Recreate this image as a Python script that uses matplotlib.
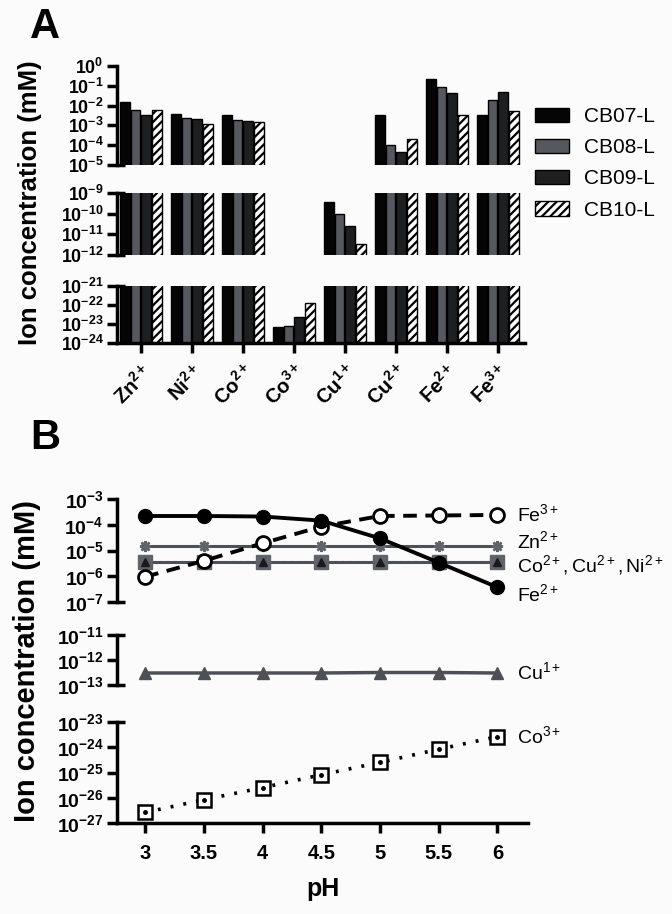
import matplotlib
matplotlib.use("Agg")
import matplotlib.pyplot as plt
import numpy as np

plt.rcParams['font.family'] = ['Liberation Sans', 'DejaVu Sans']
plt.rcParams['mathtext.fontset'] = 'custom'
plt.rcParams['mathtext.rm'] = 'Liberation Sans'
plt.rcParams['mathtext.it'] = 'Liberation Sans:italic'
plt.rcParams['mathtext.bf'] = 'Liberation Sans:bold'
plt.rcParams['mathtext.default'] = 'bf'
plt.rcParams['hatch.linewidth'] = 1.6

# ---------------- Data: panel A (log10 of ion concentration, mM) ----------------
ions_A = [r'$Zn^{2+}$', r'$Ni^{2+}$', r'$Co^{2+}$', r'$Co^{3+}$',
          r'$Cu^{1+}$', r'$Cu^{2+}$', r'$Fe^{2+}$', r'$Fe^{3+}$']
samples = ['CB07-L', 'CB08-L', 'CB09-L', 'CB10-L']
log_CB07 = [-1.82, -2.42, -2.45, -23.16, -9.42, -2.47, -0.65, -2.50]
log_CB08 = [-2.23, -2.65, -2.75, -23.10, -10.03, -3.97, -1.08, -1.73]
log_CB09 = [-2.50, -2.70, -2.80, -22.65, -10.58, -4.33, -1.37, -1.32]
log_CB10 = [-2.23, -2.92, -2.83, -21.91, -11.48, -3.67, -2.45, -2.27]

# ---------------- Data: panel B (log10 of ion concentration, mM) ----------------
pH = [3, 3.5, 4, 4.5, 5, 5.5, 6]
pH_labels = ['3', '3.5', '4', '4.5', '5', '5.5', '6']
log_Fe2 = [-3.66, -3.66, -3.68, -3.84, -4.53, -5.47, -6.43]
log_Fe3 = [-6.02, -5.40, -4.72, -4.07, -3.66, -3.64, -3.62]
log_Zn2 = [-4.83] * 7
log_Co2 = [-5.46] * 7
log_Cu2 = [-5.46] * 7
log_Ni2 = [-5.46] * 7
log_Cu1 = [-12.52, -12.52, -12.52, -12.52, -12.50, -12.50, -12.52]
log_Co3 = [-26.58, -26.08, -25.60, -25.09, -24.60, -24.08, -23.58]

W, H = 672, 914
bg = '#fbfbfb'
fig = plt.figure(figsize=(W / 100, H / 100), dpi=100, facecolor=bg)


def add_ax(x0, x1, ytop, ybot):
    ax = fig.add_axes([x0 / W, 1 - ybot / H, (x1 - x0) / W, (ybot - ytop) / H])
    ax.set_facecolor('none')
    return ax


SPW = 2.5
TICKL = 7.5


def style_seg(ax, lo, hi, bottom_axis, cap_top, cap_bot, lsize):
    ax.set_yscale('log')
    ax.set_ylim(10.0 ** lo, 10.0 ** hi)
    for s in ['top', 'right']:
        ax.spines[s].set_visible(False)
    ax.spines['left'].set_linewidth(SPW)
    ax.spines['bottom'].set_linewidth(SPW)
    ax.spines['bottom'].set_visible(bottom_axis)
    exps = list(range(lo, hi + 1))
    ax.set_yticks([10.0 ** e for e in exps])
    ax.set_yticklabels([r'$10^{%d}$' % e for e in exps])
    ax.yaxis.set_minor_locator(matplotlib.ticker.NullLocator())
    ax.tick_params(axis='y', length=TICKL, width=SPW, labelsize=lsize, pad=2)
    if not bottom_axis:
        ax.tick_params(axis='x', bottom=False, labelbottom=False)
    for flag, yv in [(cap_top, 1), (cap_bot, 0)]:
        if flag:
            ax.plot([0, 0.02], [yv, yv], transform=ax.transAxes, color='black',
                    lw=SPW, clip_on=False, solid_capstyle='butt')


# ---------------- Panel A ----------------
xA0, xA1 = 117, 525
segsA = [(66, 165, -5, 0), (193, 255, -12, -9), (286, 343, -24, -21)]
colors = ['#050505', '#55595f', '#1e1f21', 'white']
hatches = [None, None, None, '////']
series = [log_CB07, log_CB08, log_CB09, log_CB10]
x = np.arange(len(ions_A))
offs = [-0.315, -0.105, 0.105, 0.315]
axesA = []
for i, (yt, yb, lo, hi) in enumerate(segsA):
    ax = add_ax(xA0, xA1, yt, yb)
    last = (i == len(segsA) - 1)
    for s, vals in enumerate(series):
        ax.bar(x + offs[s], [10.0 ** v - 1e-40 for v in vals], bottom=1e-40, width=0.19,
               color=colors[s], edgecolor='black', linewidth=1.0, hatch=hatches[s],
               label=samples[s])
    ax.set_xlim(-0.47, 7.53)
    style_seg(ax, lo, hi, last, cap_top=(i > 0), cap_bot=(not last), lsize=12.8)
    axesA.append(ax)

axA = axesA[-1]
axA.set_xticks(x)
axA.set_xticklabels(ions_A, rotation=45, ha='right', rotation_mode='anchor', fontsize=14.5)
axA.tick_params(axis='x', length=7, width=SPW, pad=6)

handles, labels = axesA[0].get_legend_handles_labels()
fig.legend(handles, labels, loc='upper left', bbox_to_anchor=(527 / W, 1 - 99 / H),
           frameon=False, fontsize=15, handlelength=1.6, handleheight=0.7,
           handletextpad=0.75, labelspacing=0.58, borderaxespad=0)

fig.text(30 / W, 1 - 203 / H, 'Ion concentration (mM)', rotation=90, ha='center',
         va='center', fontsize=18.5, fontweight='bold')
fig.text(30 / W, 1 - 27 / H, 'A', fontsize=30, fontweight='bold', ha='left', va='center')

# ---------------- Panel B ----------------
xB0, xB1 = 117, 528
segsB = [(499, 602, -7, -3), (635, 685, -13, -11), (722, 823, -27, -23)]
g1 = '#4d5157'
g2 = '#60646a'
axesB = []
for i, (yt, yb, lo, hi) in enumerate(segsB):
    ax = add_ax(xB0, xB1, yt, yb)
    last = (i == len(segsB) - 1)
    p = lambda v: [10.0 ** a for a in v]
    ax.plot(pH, p(log_Ni2), color=g2, lw=1.5, ls=(0, (1, 2.5)), marker='o', ms=2.5,
            zorder=2)
    ax.plot(pH, p(log_Co2), color=g1, lw=2.2, marker='s', ms=10, mfc=g2, mec=g2, zorder=3)
    ax.plot(pH, p(log_Cu2), color=g1, lw=0, marker='^', ms=6, mfc='#1a1a1a',
            mec='#1a1a1a', zorder=4)
    ax.plot(pH, p(log_Zn2), color=g1, lw=2.2, marker=(8, 2, 0), ms=8, mfc=g2, mec=g2,
            mew=1.8, zorder=3)
    ax.plot(pH, p(log_Fe3), color='black', lw=2.8, ls=(0, (3.5, 2.2)), marker='o', ms=10,
            mfc='white', mec='black', mew=2, zorder=5)
    ax.plot(pH, p(log_Fe2), color='black', lw=2.8, marker='o', ms=10, mfc='black',
            mec='black', zorder=6)
    ax.plot(pH, p(log_Cu1), color=g1, lw=2.5, marker='^', ms=9, mfc=g1, mec=g1, zorder=3)
    ax.plot(pH, p(log_Co3), color='black', lw=2.6, ls=(0, (0.8, 2.8)), marker='s', ms=10,
            mfc='white', mec='black', mew=1.8, zorder=5)
    ax.plot(pH, p(log_Co3), lw=0, marker='o', ms=2.5, color='black', zorder=6)
    ax.set_xlim(2.76, 6.26)
    style_seg(ax, lo, hi, last, cap_top=(i > 0), cap_bot=(not last), lsize=14)
    axesB.append(ax)

axB = axesB[-1]
axB.set_xticks(pH)
axB.set_xticklabels(pH_labels, fontweight='bold')
axB.tick_params(axis='x', length=7, width=SPW, labelsize=14.5, pad=8)
axB.set_xlabel('pH', fontsize=18, fontweight='bold', labelpad=10)

labelsB = [(r'$\mathrm{Fe^{3+}}$', 514), (r'$\mathrm{Zn^{2+}}$', 541),
           (r'$\mathrm{Co^{2+}, Cu^{2+}, Ni^{2+}}$', 565),
           (r'$\mathrm{Fe^{2+}}$', 594),
           (r'$\mathrm{Cu^{1+}}$', 672), (r'$\mathrm{Co^{3+}}$', 736)]
for txt, yy in labelsB:
    fig.text(517 / W, 1 - yy / H, txt, fontsize=14, ha='left', va='center')

fig.text(27 / W, 1 - 661 / H, 'Ion concentration (mM)', rotation=90, ha='center',
         va='center', fontsize=21, fontweight='bold')
fig.text(30 / W, 1 - 438 / H, 'B', fontsize=30, fontweight='bold', ha='left', va='center')

fig.savefig('out.png', dpi=100, facecolor=bg)
